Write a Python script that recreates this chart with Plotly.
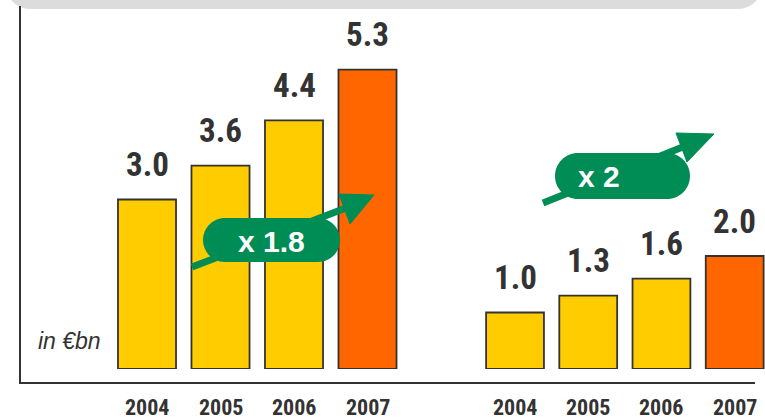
import plotly.graph_objects as go

years = ["2004", "2005", "2006", "2007"]
left_values = [3.0, 3.6, 4.4, 5.3]
right_values = [1.0, 1.3, 1.6, 2.0]
left_factor = "x 1.8"
right_factor = "x 2"
unit_label = "in €bn"

YELLOW = "#FFCC00"
ORANGE = "#FF6600"
GREEN = "#008C55"
DARK = "#333333"
colors = [YELLOW, YELLOW, YELLOW, ORANGE]

W, H = 765, 419
B = 50
PH = H - B


def px(x):
    return x / W


def py(y):
    return (PH - y) / PH


def P(x, y):
    return f"{px(x):.5f},{py(y):.5f}"


def pill_path(x0, y0, x1, y1):
    r = (y1 - y0) / 2
    cy = (y0 + y1) / 2
    k = 0.5523 * r
    return (f"M {P(x0 + r, y0)} L {P(x1 - r, y0)} "
            f"C {P(x1 - r + k, y0)} {P(x1, cy - k)} {P(x1, cy)} "
            f"C {P(x1, cy + k)} {P(x1 - r + k, y1)} {P(x1 - r, y1)} "
            f"L {P(x0 + r, y1)} "
            f"C {P(x0 + r - k, y1)} {P(x0, cy + k)} {P(x0, cy)} "
            f"C {P(x0, cy - k)} {P(x0 + r - k, y0)} {P(x0 + r, y0)} Z")


def rounded_rect(x0, y0, x1, y1, r):
    k = 0.5523 * r
    return (f"M {P(x0, y0)} L {P(x1, y0)} L {P(x1, y1 - r)} "
            f"C {P(x1, y1 - r + k)} {P(x1 - r + k, y1)} {P(x1 - r, y1)} "
            f"L {P(x0 + r, y1)} "
            f"C {P(x0 + r - k, y1)} {P(x0, y1 - r + k)} {P(x0, y1 - r)} Z")


fig = go.Figure()
fig.add_trace(go.Bar(x=years, y=left_values, xaxis="x", yaxis="y",
                     marker=dict(color=colors, line=dict(color=DARK, width=1.8)),
                     width=0.79, hoverinfo="skip"))
fig.add_trace(go.Bar(x=years, y=right_values, xaxis="x2", yaxis="y",
                     marker=dict(color=colors, line=dict(color=DARK, width=1.8)),
                     width=0.79, hoverinfo="skip"))

COND = "Roboto Condensed, Liberation Sans Narrow, Arial Narrow, sans-serif"
annotations = []
value_font = dict(family=COND, size=33, color=DARK, weight="bold")
year_font = dict(family=COND, size=22, color=DARK, weight="bold")
for xr, vals in (("x", left_values), ("x2", right_values)):
    for i, (yr, v) in enumerate(zip(years, vals)):
        annotations.append(dict(x=i, y=v, xref=xr, yref="y", text=f"{v:.1f}",
                                showarrow=False, yanchor="middle", yshift=35,
                                font=value_font))
        annotations.append(dict(x=i, y=0, xref=xr, yref="y", text=yr,
                                showarrow=False, yanchor="middle", yshift=-38,
                                font=year_font))

annotations.append(dict(x=px(36), y=py(341), xref="paper", yref="paper",
                        xanchor="left", yanchor="middle",
                        text=unit_label, showarrow=False,
                        font=dict(family="Liberation Sans, Arial, sans-serif",
                                  size=23, color=DARK, style="italic")))
annotations.append(dict(x=px(271), y=py(241), xref="paper", yref="paper",
                        text=left_factor, showarrow=False,
                        font=dict(family="Liberation Sans, Arial, sans-serif",
                                  size=30, color="white", weight="bold")))
annotations.append(dict(x=px(622), y=py(177), xref="paper", yref="paper",
                        text=right_factor, showarrow=False,
                        font=dict(family="Liberation Sans, Arial, sans-serif",
                                  size=30, color="white", weight="bold")))

shapes = [
    dict(type="path", xref="paper", yref="paper",
         path=rounded_rect(6, -40, 762, 9, 24),
         fillcolor="#DCDCDC", line=dict(width=0), layer="below"),
    dict(type="line", xref="paper", yref="paper", x0=px(20), x1=px(20),
         y0=py(6), y1=py(384), line=dict(color=DARK, width=2)),
    dict(type="line", xref="paper", yref="paper", x0=px(19), x1=px(755),
         y0=py(383), y1=py(383), line=dict(color=DARK, width=2)),
    # left arrow
    dict(type="path", xref="paper", yref="paper",
         path=f"M {P(192, 267)} L {P(344.5, 208.5)}",
         line=dict(color=GREEN, width=7)),
    dict(type="path", xref="paper", yref="paper",
         path=f"M {P(339, 194)} L {P(374, 195)} L {P(350, 224)} Z",
         fillcolor=GREEN, line=dict(color=GREEN, width=1)),
    dict(type="path", xref="paper", yref="paper",
         path=pill_path(203, 218, 340, 262),
         fillcolor=GREEN, line=dict(width=0)),
    # right arrow
    dict(type="path", xref="paper", yref="paper",
         path=f"M {P(543, 203)} L {P(681.5, 147.5)}",
         line=dict(color=GREEN, width=7)),
    dict(type="path", xref="paper", yref="paper",
         path=f"M {P(676, 133)} L {P(714, 134)} L {P(687, 162)} Z",
         fillcolor=GREEN, line=dict(color=GREEN, width=1)),
    dict(type="path", xref="paper", yref="paper",
         path=pill_path(555, 153, 690, 199),
         fillcolor=GREEN, line=dict(width=0)),
]

ymax = PH / 56.5
fig.update_layout(
    width=W, height=H,
    margin=dict(l=0, r=0, t=0, b=B),
    paper_bgcolor="white", plot_bgcolor="white",
    showlegend=False,
    xaxis=dict(type="category", domain=[px(110.25), px(404.25)], range=[-0.5, 3.5],
               showticklabels=False, showgrid=False, zeroline=False,
               showline=False, fixedrange=True),
    xaxis2=dict(type="category", domain=[px(478.4), 1.0], range=[-0.5, 3.414],
                showticklabels=False, showgrid=False, zeroline=False,
                showline=False, fixedrange=True, anchor="y"),
    yaxis=dict(range=[0, ymax], showticklabels=False, showgrid=False,
               zeroline=False, showline=False, fixedrange=True),
    annotations=annotations,
    shapes=shapes,
)

fig.write_html("out.html", config={"displayModeBar": False},
               post_script="document.body.style.margin='0';document.body.style.overflow='hidden';")
